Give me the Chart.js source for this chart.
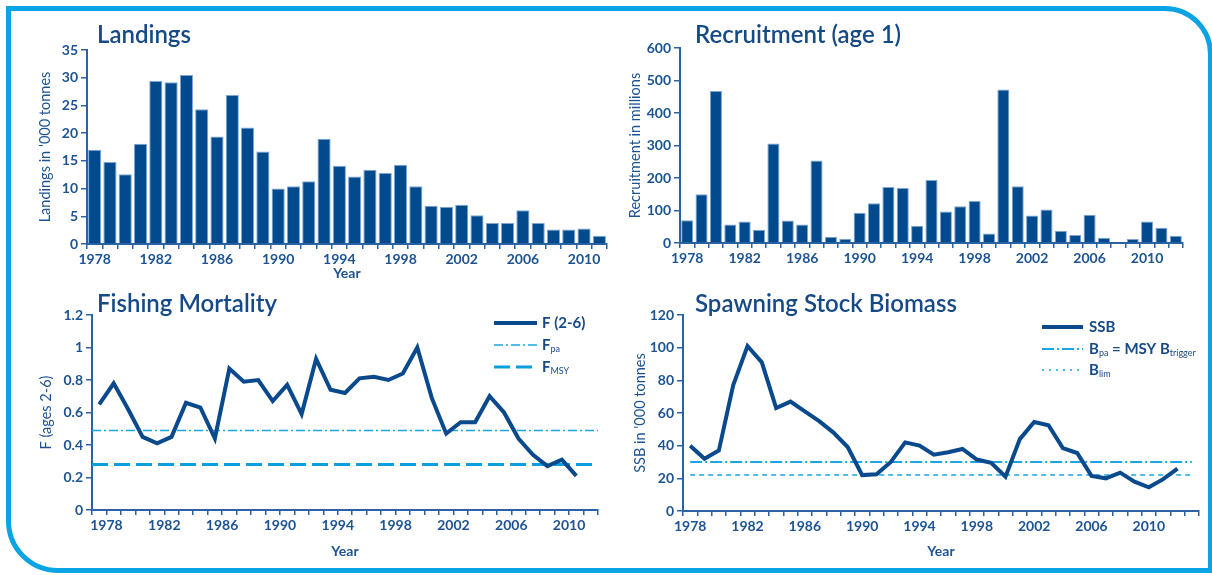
<!DOCTYPE html>
<html><head><meta charset="utf-8">
<script src="https://cdn.jsdelivr.net/npm/chart.js@4"></script>
<style>
html,body{margin:0;padding:0;background:#fff;width:1212px;height:575px;overflow:hidden;position:relative;}
.frame{position:absolute;left:6px;top:6px;width:1197px;height:557px;border:5px solid #0aa3e3;border-radius:0 48px 0 52px;}
canvas{position:absolute;}
</style></head><body>
<div class="frame"></div>
<canvas id="c1" width="620" height="290" style="left:0;top:0"></canvas>
<canvas id="c2" width="612" height="290" style="left:600px;top:0"></canvas>
<canvas id="c3" width="620" height="285" style="left:0;top:290px"></canvas>
<canvas id="c4" width="612" height="285" style="left:600px;top:290px"></canvas>
<script>
// ---------------- DATA ----------------
const landingsYears = [1978,1979,1980,1981,1982,1983,1984,1985,1986,1987,1988,1989,1990,1991,1992,1993,1994,1995,1996,1997,1998,1999,2000,2001,2002,2003,2004,2005,2006,2007,2008,2009,2010,2011];
const landingsValues = [17.0,14.8,12.6,18.1,29.4,29.2,30.5,24.3,19.4,26.9,21.0,16.7,10.0,10.4,11.3,19.0,14.1,12.2,13.4,12.8,14.3,10.4,6.9,6.7,7.1,5.2,3.8,3.8,6.1,3.8,2.6,2.6,2.8,1.5];

const recruitYears = [1978,1979,1980,1981,1982,1983,1984,1985,1986,1987,1988,1989,1990,1991,1992,1993,1994,1995,1996,1997,1998,1999,2000,2001,2002,2003,2004,2005,2006,2007,2008,2009,2010,2011,2012];
const recruitValues = [70,150,468,57,66,41,306,69,57,254,19,13,93,122,172,169,53,194,97,113,129,29,472,175,85,103,38,25,87,16,4,12,66,47,22];

const fmYears = [1978,1979,1980,1981,1982,1983,1984,1985,1986,1987,1988,1989,1990,1991,1992,1993,1994,1995,1996,1997,1998,1999,2000,2001,2002,2003,2004,2005,2006,2007,2008,2009,2010,2011];
const fmValues = [0.65,0.78,0.62,0.45,0.41,0.45,0.66,0.63,0.44,0.87,0.79,0.80,0.67,0.77,0.59,0.93,0.74,0.72,0.81,0.82,0.80,0.84,1.00,0.69,0.47,0.54,0.54,0.70,0.60,0.44,0.34,0.27,0.31,0.21];
const F_PA = 0.49;
const F_MSY = 0.28;

const ssbAxisYears = [1978,1979,1980,1981,1982,1983,1984,1985,1986,1987,1988,1989,1990,1991,1992,1993,1994,1995,1996,1997,1998,1999,2000,2001,2002,2003,2004,2005,2006,2007,2008,2009,2010,2011,2012,2013];
const ssbValues = [40,32,37,77,101,91,63,67,61,55,48,39,22,22.5,30,42,40,34.5,36,38,31.5,29.5,21,44,54.5,52.5,38.5,35.5,21.5,20,23.5,18,14.5,19.5,26];
const B_PA = 30;
const B_LIM = 22;

const yearTickLabels = ['1978','1982','1986','1990','1994','1998','2002','2006','2010'];

// ---------------- STYLE ----------------
const AXIS = '#2a62a3', TXT = '#1d5391', TITLE = '#164a86', DARK = '#0a4a8c', BAR = '#004a8d', LIGHT = '#1aa6e2';
const FONT = 'Lato';
const tickFont = {family: FONT, size: 14, weight: 'bold'};
const DASH_FPA = [9,3,2,3];
const DASH_FMSY = [16,6];
const DASH_BPA = [12,3,2,3];
const DASH_BLIM = [5,4];

const titlePlugin = {
  id: 'panelTitle',
  afterDraw(chart, args, o) {
    const c = chart.ctx; c.save();
    c.font = '600 24px ' + FONT; c.fillStyle = TITLE; c.textBaseline = 'alphabetic'; c.textAlign = 'left';
    c.fillText(o.text, o.x, o.y); c.restore();
  }
};
const legendPlugin = {
  id: 'customLegend',
  afterDraw(chart, args, o) {
    if (!o.items) return;
    const c = chart.ctx;
    o.items.forEach(it => {
      c.save();
      c.strokeStyle = it.color; c.lineWidth = it.width; c.setLineDash(it.dash || []);
      c.beginPath(); c.moveTo(o.x1, it.y); c.lineTo(o.x2, it.y); c.stroke();
      c.setLineDash([]);
      c.fillStyle = TITLE; c.textBaseline = 'middle'; c.textAlign = 'left';
      let x = o.tx;
      it.parts.forEach(p => {
        c.font = p.sub ? ('9px ' + FONT) : ('bold 15px ' + FONT);
        c.fillText(p.t, x, p.sub ? it.y + 4 : it.y);
        x += c.measureText(p.t).width;
      });
      c.restore();
    });
  }
};

function yScale(min, max, step, title, width, titlePad) {
  return {
    min, max,
    ticks: {stepSize: step, color: TXT, font: tickFont, padding: 3,
      callback(v) { return String(Number(Number(v).toFixed(2))); }},
    grid: {drawOnChartArea: false, drawTicks: true, tickLength: 6, color: AXIS, lineWidth: 1.5},
    border: {display: true, color: AXIS, width: 2},
    title: {display: true, text: title, color: TXT, font: {family: FONT, size: 14.5}, padding: {top: titlePad, bottom: 0}},
    afterFit(s) { s.width = width; }
  };
}
function xTitle(pad) {
  return {display: true, text: 'Year', color: TXT, font: {family: FONT, size: 14, weight: 'bold'}, padding: {top: 0, bottom: pad}};
}
function catX(years, height, title) {
  return {
    type: 'category', offset: true,
    grid: {offset: true, drawOnChartArea: false, drawTicks: true, tickLength: 5, color: AXIS, lineWidth: 1.5},
    border: {display: true, color: AXIS, width: 2},
    ticks: {autoSkip: false, maxRotation: 0, minRotation: 0, color: TXT, font: tickFont, padding: 2,
      callback(v, i) { const y = String(years[i]); return yearTickLabels.includes(y) ? y : ''; }},
    title: title || {display: false},
    afterFit(s) { s.height = height; }
  };
}
const base = {responsive: false, animation: false, devicePixelRatio: 1};

// ---------------- LANDINGS ----------------
new Chart(document.getElementById('c1'), {
  type: 'bar',
  data: {labels: landingsYears, datasets: [{data: landingsValues, backgroundColor: BAR, borderColor: '#7fa7d6', borderWidth: 1, borderSkipped: 'bottom', categoryPercentage: 1, barPercentage: 0.86}]},
  options: Object.assign({}, base, {
    layout: {padding: {top: 50, right: 13, left: 0, bottom: 0}},
    plugins: {legend: {display: false}, tooltip: {enabled: false}, panelTitle: {text: 'Landings', x: 97, y: 43}},
    scales: {x: catX(landingsYears, 46, xTitle(8)), y: yScale(0, 35, 5, "Landings in '000 tonnes", 87, 37)}
  }),
  plugins: [titlePlugin]
});

// ---------------- RECRUITMENT ----------------
new Chart(document.getElementById('c2'), {
  type: 'bar',
  data: {labels: recruitYears, datasets: [{data: recruitValues, backgroundColor: BAR, borderColor: '#7fa7d6', borderWidth: 1, borderSkipped: 'bottom', categoryPercentage: 1, barPercentage: 0.84}]},
  options: Object.assign({}, base, {
    layout: {padding: {top: 48, right: 29, left: 0, bottom: 0}},
    plugins: {legend: {display: false}, tooltip: {enabled: false}, panelTitle: {text: 'Recruitment (age 1)', x: 95, y: 43}},
    scales: {x: catX(recruitYears, 47), y: yScale(0, 600, 100, 'Recruitment in millions', 80, 27)}
  }),
  plugins: [titlePlugin]
});

// ---------------- FISHING MORTALITY ----------------
const fmAxisMin = 1977, fmAxisMax = 2012;
new Chart(document.getElementById('c3'), {
  type: 'line',
  data: {datasets: [
    {label: 'F (2-6)', data: fmYears.map((y, i) => ({x: y - 0.5, y: fmValues[i]})), borderColor: DARK, borderWidth: 4, pointRadius: 0, tension: 0, order: 0},
    {label: 'Fpa', data: [{x: fmAxisMin, y: F_PA}, {x: fmAxisMax, y: F_PA}], borderColor: LIGHT, borderWidth: 1.5, borderDash: DASH_FPA, pointRadius: 0, order: 1},
    {label: 'FMSY', data: [{x: fmAxisMin, y: F_MSY}, {x: fmAxisMax, y: F_MSY}], borderColor: '#0aa0e0', borderWidth: 3, borderDash: DASH_FMSY, pointRadius: 0, order: 2}
  ]},
  options: Object.assign({}, base, {
    layout: {padding: {top: 25, right: 22, left: 0, bottom: 0}},
    plugins: {legend: {display: false}, tooltip: {enabled: false},
      panelTitle: {text: 'Fishing Mortality', x: 97, y: 22},
      customLegend: {x1: 494, x2: 537, tx: 542, items: [
        {y: 33, color: DARK, width: 4, parts: [{t: 'F (2-6)'}]},
        {y: 55, color: LIGHT, width: 1.5, dash: DASH_FPA, parts: [{t: 'F'}, {t: 'pa', sub: true}]},
        {y: 77, color: '#0aa0e0', width: 3, dash: DASH_FMSY, parts: [{t: 'F'}, {t: 'MSY', sub: true}]}
      ]}},
    scales: {
      x: {type: 'linear', min: fmAxisMin, max: fmAxisMax,
        afterBuildTicks(s) { const t = []; for (let v = fmAxisMin; v <= fmAxisMax; v++) t.push({value: v}); s.ticks = t; },
        grid: {drawOnChartArea: false, drawTicks: true, tickLength: 5, color: AXIS, lineWidth: 1.5},
        border: {display: true, color: AXIS, width: 2},
        ticks: {autoSkip: false, maxRotation: 0, minRotation: 0, color: TXT, font: tickFont, padding: 2,
          callback(v) { return yearTickLabels.includes(String(v)) ? String(v) : ''; }},
        title: xTitle(15),
        afterFit(s) { s.height = 65; }},
      y: yScale(0, 1.2, 0.2, 'F (ages 2-6)', 92, 38)
    }
  }),
  plugins: [titlePlugin, legendPlugin]
});

// ---------------- SSB ----------------
new Chart(document.getElementById('c4'), {
  type: 'line',
  data: {labels: ssbAxisYears, datasets: [
    {label: 'SSB', data: ssbValues, borderColor: DARK, borderWidth: 4, pointRadius: 0, tension: 0, order: 0},
    {label: 'Bpa', data: ssbAxisYears.map(() => B_PA), borderColor: LIGHT, borderWidth: 2, borderDash: DASH_BPA, pointRadius: 0, order: 1},
    {label: 'Blim', data: ssbAxisYears.map(() => B_LIM), borderColor: LIGHT, borderWidth: 1.5, borderDash: DASH_BLIM, pointRadius: 0, order: 2}
  ]},
  options: Object.assign({}, base, {
    layout: {padding: {top: 25, right: 13, left: 0, bottom: 0}},
    plugins: {legend: {display: false}, tooltip: {enabled: false},
      panelTitle: {text: 'Spawning Stock Biomass', x: 95, y: 22},
      customLegend: {x1: 442, x2: 483, tx: 489, items: [
        {y: 37, color: DARK, width: 4, parts: [{t: 'SSB'}]},
        {y: 59, color: LIGHT, width: 2, dash: DASH_BPA, parts: [{t: 'B'}, {t: 'pa', sub: true}, {t: ' = MSY B'}, {t: 'trigger', sub: true}]},
        {y: 80, color: LIGHT, width: 1.5, dash: [2,5], parts: [{t: 'B'}, {t: 'lim', sub: true}]}
      ]}},
    scales: {x: catX(ssbAxisYears, 64, xTitle(15)), y: yScale(0, 120, 20, "SSB in '000 tonnes", 83, 32)}
  }),
  plugins: [titlePlugin, legendPlugin]
});
</script>
</body></html>
